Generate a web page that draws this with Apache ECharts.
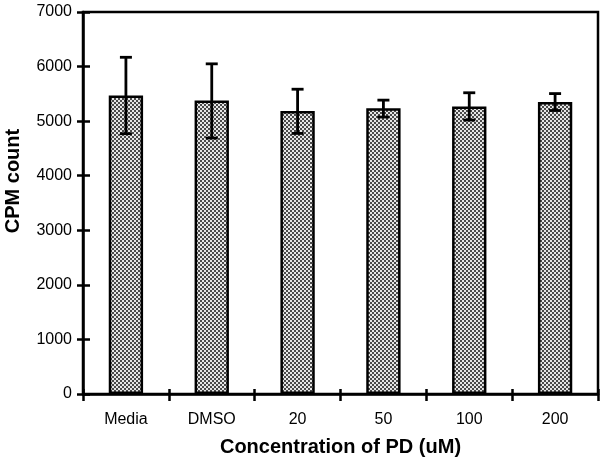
<!DOCTYPE html>
<html>
<head>
<meta charset="utf-8">
<script src="https://cdn.jsdelivr.net/npm/echarts@6/dist/echarts.min.js"></script>
<style>html,body{margin:0;padding:0;background:#fff}#c{width:603px;height:463px}</style>
</head>
<body>
<div id="c"></div>
<script>
const categories = ['Media', 'DMSO', '20', '50', '100', '200'];
const cpmMean = [5470, 5380, 5185, 5235, 5270, 5350];
const cpmErrUp = [700, 670, 400, 150, 250, 155];
const cpmErrDown = [700, 690, 410, 160, 250, 155];
const yTicks = [0, 1000, 2000, 3000, 4000, 5000, 6000, 7000];

const pc = document.createElement('canvas');
pc.width = 4; pc.height = 4;
const g = pc.getContext('2d');
g.fillStyle = '#e6e6e6'; g.fillRect(0, 0, 4, 4);
g.fillStyle = '#4a4a4a'; g.fillRect(0, 0, 2, 2); g.fillRect(2, 2, 2, 2);

const font = '"Liberation Sans", Arial, sans-serif';
const black = {color: '#000', width: 2.5};
const chart = echarts.init(document.getElementById('c'), null, {renderer: 'canvas'});
chart.setOption({
  animation: false,
  grid: {left: 83, right: 5, top: 12, bottom: 69, outerBoundsMode: 'none', containLabel: false,
         show: true, borderColor: '#000', borderWidth: 2.5, backgroundColor: 'transparent'},
  xAxis: [{
    type: 'category', data: categories, position: 'bottom',
    axisLine: {lineStyle: black},
    axisTick: {show: true, length: 7, lineStyle: black},
    axisLabel: {color: '#000', fontFamily: font, fontSize: 16, margin: 18},
    name: 'Concentration of PD (uM)', nameLocation: 'middle', nameGap: 43,
    nameTextStyle: {color: '#000', fontFamily: font, fontSize: 20, fontWeight: 'bold'}
  }, {
    type: 'category', data: categories, position: 'bottom', offset: 0,
    axisLine: {show: false},
    axisTick: {show: true, inside: true, length: 5, lineStyle: black},
    axisLabel: {show: false}
  }],
  yAxis: [{
    type: 'value', min: yTicks[0], max: yTicks[yTicks.length - 1], interval: 1000, position: 'left',
    splitLine: {show: false},
    axisLine: {show: true, lineStyle: black},
    axisTick: {show: true, length: 6, lineStyle: black},
    axisLabel: {color: '#000', fontFamily: font, fontSize: 16, margin: 11, formatter: v => String(v)},
    name: 'CPM count', nameLocation: 'middle', nameGap: 60,
    nameTextStyle: {color: '#000', fontFamily: font, fontSize: 20, fontWeight: 'bold', padding: [0, 0, 0, 44]}
  }, {
    type: 'value', min: yTicks[0], max: yTicks[yTicks.length - 1], interval: 1000, position: 'left', offset: 0,
    splitLine: {show: false},
    axisLine: {show: false},
    axisTick: {show: true, inside: true, length: 7, lineStyle: black},
    axisLabel: {show: false}
  }],
  series: [
    {
      type: 'bar', data: cpmMean, barWidth: '40%',
      itemStyle: {color: {image: pc, repeat: 'repeat'}, borderColor: '#000', borderWidth: 2.5}
    },
    {
      type: 'custom', z: 5,
      data: cpmMean.map((m, i) => [i, m + cpmErrUp[i], m - cpmErrDown[i]]),
      renderItem: function (params, api) {
        const i = api.value(0);
        const hi = api.coord([i, api.value(1)]);
        const lo = api.coord([i, api.value(2)]);
        const hw = 6;
        const st = {stroke: '#000', lineWidth: 2.8};
        return {type: 'group', children: [
          {type: 'line', shape: {x1: hi[0], y1: hi[1], x2: lo[0], y2: lo[1]}, style: st},
          {type: 'line', shape: {x1: hi[0] - hw, y1: hi[1], x2: hi[0] + hw, y2: hi[1]}, style: st},
          {type: 'line', shape: {x1: lo[0] - hw, y1: lo[1], x2: lo[0] + hw, y2: lo[1]}, style: st}
        ]};
      }
    }
  ]
});
</script>
</body>
</html>
